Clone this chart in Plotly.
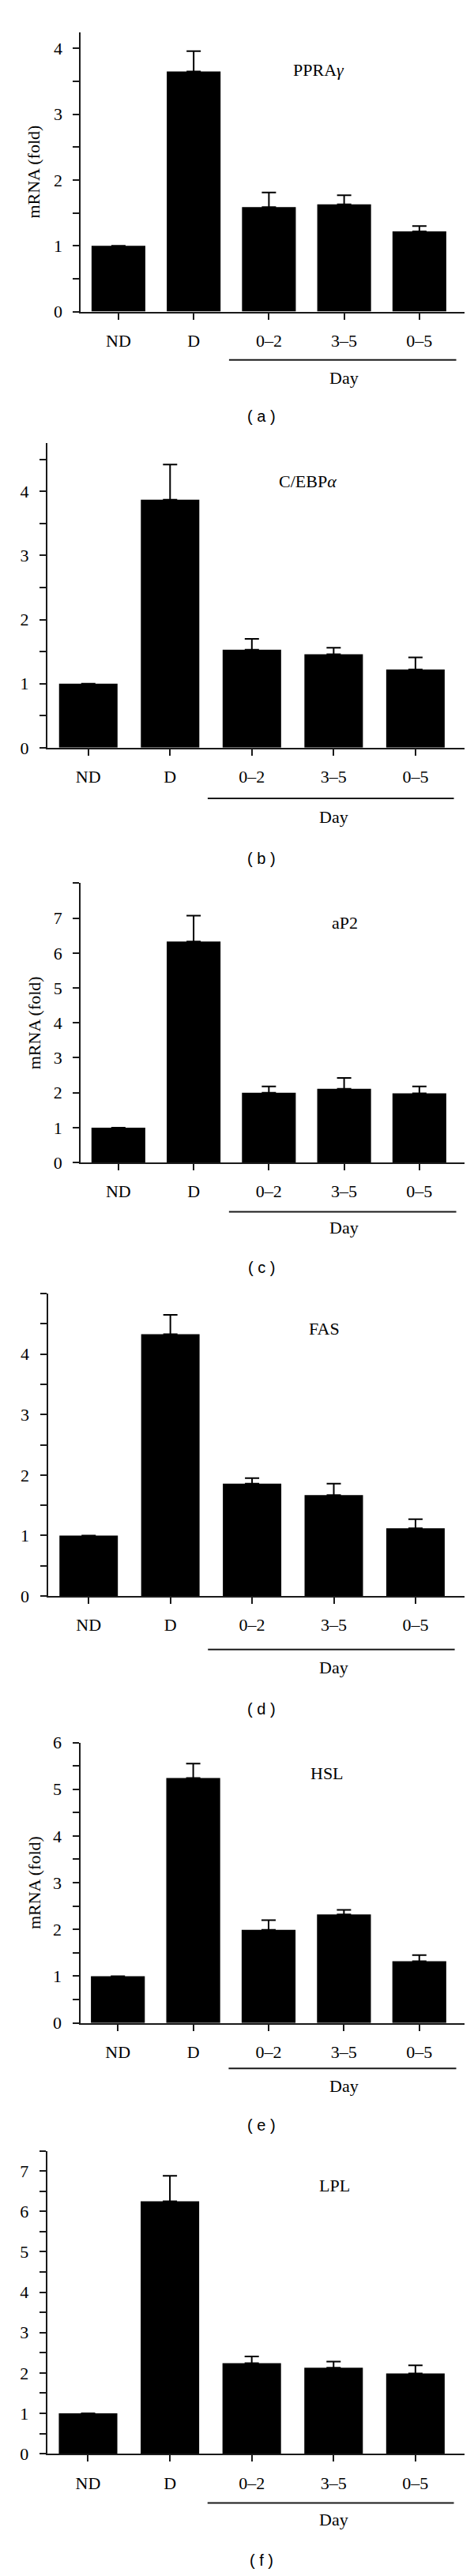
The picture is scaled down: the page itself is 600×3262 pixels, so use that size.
import plotly.graph_objects as go

W, H = 600, 3262

categories = ["ND", "D", "0–2", "3–5", "0–5"]

genes = ["PPRA<i>γ</i>", "C/EBP<i>α</i>", "aP2", "FAS", "HSL", "LPL"]
panel_letters = ["a", "b", "c", "d", "e", "f"]

vals_a = [1.0, 3.65, 1.59, 1.63, 1.22]
err_a = [0.0, 0.31, 0.22, 0.14, 0.08]
vals_b = [1.0, 3.87, 1.53, 1.46, 1.22]
err_b = [0.0, 0.55, 0.17, 0.10, 0.19]
vals_c = [1.0, 6.33, 2.00, 2.11, 1.98]
err_c = [0.0, 0.74, 0.18, 0.31, 0.20]
vals_d = [1.0, 4.33, 1.86, 1.67, 1.12]
err_d = [0.0, 0.32, 0.09, 0.19, 0.15]
vals_e = [1.0, 5.24, 1.99, 2.32, 1.32]
err_e = [0.0, 0.31, 0.21, 0.10, 0.13]
vals_f = [1.0, 6.25, 2.24, 2.13, 1.99]
err_f = [0.0, 0.63, 0.17, 0.15, 0.20]

values = [vals_a, vals_b, vals_c, vals_d, vals_e, vals_f]
errors = [err_a, err_b, err_c, err_d, err_e, err_f]

y_max = [4.25, 4.75, 8.0, 5.0, 6.0, 7.5]
y_step = [0.5, 0.5, 1.0, 0.5, 0.5, 0.5]
y_label_max = [4, 4, 7, 4, 6, 7]
show_ytitle = [True, False, True, False, True, False]

# pixel layout of each plot area: (left, right, top, bottom)
boxes = [
    (94.3, 580, 20.7, 377.5),
    (52.0, 580, 545.6, 934.0),
    (94.2, 580, 1106.9, 1463.3),
    (52.5, 580, 1630.7, 2016.5),
    (93.5, 580, 2203.4, 2561.3),
    (51.7, 580, 2724.5, 3111.0),
]
# gene label positions (category index, value)
gene_pos = [(2.66, 3.67), (2.68, 4.16), (3.01, 6.87), (2.88, 4.42), (2.78, 5.34), (3.01, 6.65)]
day_line_y = [439.0, 998.7, 1526.2, 2084.8, 2619.4, 3173.7]
day_text_y = [461.7, 1022.8, 1546.6, 2107.4, 2642.0, 3195.3]
caption_y = [510.7, 1074.8, 1596.9, 2160.2, 2691.2, 3247.0]
day_span = [(1.47, 4.49), (1.46, 4.47), (1.47, 4.49), (1.46, 4.48), (1.47, 4.49), (1.46, 4.47)]

SERIF = "Liberation Serif"
SANS = "Liberation Sans"
AXC = "#1a1a1a"

fig = go.Figure()
annotations = []
shapes = []
layout = {}

for i in range(6):
    n = i + 1
    xa = "x" if n == 1 else f"x{n}"
    ya = "y" if n == 1 else f"y{n}"
    xkey = "xaxis" if n == 1 else f"xaxis{n}"
    ykey = "yaxis" if n == 1 else f"yaxis{n}"
    left, right, top, bottom = boxes[i]

    fig.add_trace(go.Bar(
        x=categories, y=values[i], xaxis=xa, yaxis=ya,
        width=0.715,
        marker=dict(color="#000000", line=dict(width=0)),
        error_y=dict(type="data", symmetric=False, array=errors[i],
                     arrayminus=[0] * 5, color="#000000", thickness=2, width=9),
        showlegend=False, hoverinfo="skip",
    ))

    layout[xkey] = dict(
        domain=[left / W, right / W], anchor=ya, type="category",
        range=[-0.5, 4.6], showgrid=False, zeroline=False,
        showline=True, linecolor=AXC, linewidth=2,
        ticks="outside", ticklen=8, tickwidth=2, tickcolor=AXC,
        ticklabelstandoff=8,
        tickfont=dict(family=SERIF, size=22, color="#000"),
        fixedrange=True,
    )
    nsteps = int(round(y_max[i] / y_step[i]))
    tv = [round(k * y_step[i], 3) for k in range(nsteps + 1)]
    tt = [(str(int(v)) if (abs(v - round(v)) < 1e-9 and v <= y_label_max[i]) else "") for v in tv]
    layout[ykey] = dict(
        domain=[1 - bottom / H, 1 - top / H], anchor=xa,
        range=[0, y_max[i]], showgrid=False, zeroline=False,
        showline=True, linecolor=AXC, linewidth=2,
        ticks="outside", ticklen=8, tickwidth=2, tickcolor=AXC,
        ticklabelstandoff=9,
        tickvals=tv, ticktext=tt,
        tickfont=dict(family=SERIF, size=22, color="#000"),
        fixedrange=True,
    )

    # gene label
    gx, gy = gene_pos[i]
    annotations.append(dict(x=gx, y=gy, xref=xa, yref=ya, text=genes[i], showarrow=False,
                            font=dict(family=SERIF, size=22, color="#000"),
                            xanchor="center", yanchor="middle"))
    # Day bracket line and text
    x0, x1 = day_span[i]
    shapes.append(dict(type="line", xref=xa, yref="paper", x0=x0, x1=x1,
                       y0=1 - day_line_y[i] / H, y1=1 - day_line_y[i] / H,
                       line=dict(color=AXC, width=2)))
    annotations.append(dict(x=3.0, y=1 - day_text_y[i] / H, xref=xa, yref="paper", text="Day",
                            showarrow=False, font=dict(family=SERIF, size=22, color="#000"),
                            xanchor="center", yanchor="middle"))
    # caption
    annotations.append(dict(x=323 / W, y=1 - caption_y[i] / H, xref="paper", yref="paper",
                            text=f"( {panel_letters[i]} )", showarrow=False,
                            font=dict(family=SANS, size=20, color="#000"),
                            xanchor="center", yanchor="middle"))
    if show_ytitle[i]:
        annotations.append(dict(x=35 / W, y=1 - (top + bottom) / 2 / H, xref="paper", yref="paper",
                                text="mRNA (fold)", textangle=-90, showarrow=False,
                                font=dict(family=SERIF, size=22, color="#000"),
                                xanchor="center", yanchor="middle"))

fig.update_layout(
    width=W, height=H,
    margin=dict(l=0, r=0, t=0, b=0),
    paper_bgcolor="white", plot_bgcolor="white",
    annotations=annotations, shapes=shapes,
    bargap=0.2,
    **layout,
)

fig.write_html("out.html", config={"displayModeBar": False})
